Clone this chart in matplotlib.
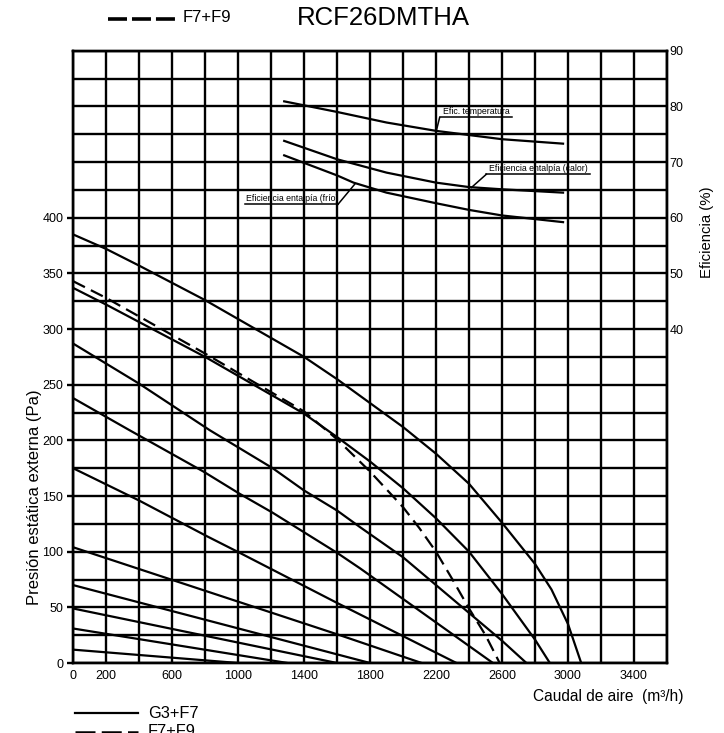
import numpy as np
import matplotlib
matplotlib.use("Agg")
import matplotlib.pyplot as plt
from matplotlib.lines import Line2D

plt.rcParams['font.family'] = ['Liberation Sans', 'DejaVu Sans']

# Curvas caudal (m3/h) - presión estática (Pa), filtros G3+F7
caudal_1 = [0, 200, 400, 800, 1400, 1600, 2000, 2200, 2400, 2600, 2800, 2900, 3000, 3080]
presion_1 = [385, 372, 357, 326, 275, 255, 212, 188, 161, 126, 89, 66, 35, 0]
caudal_2 = [0, 200, 800, 1400, 1600, 1800, 2000, 2200, 2400, 2600, 2800, 2890]
presion_2 = [337, 322, 275, 224, 203, 181, 157, 130, 100, 62, 21, 0]
caudal_3 = [0, 400, 830, 1210, 1400, 1600, 1740, 2000, 2200, 2400, 2600, 2748]
presion_3 = [287, 251, 209, 175, 155, 137, 122, 95, 70, 45, 20, 0]
caudal_4 = [0, 344, 790, 1010, 1210, 1600, 1740, 2545]
presion_4 = [238, 209, 172, 152, 135, 99, 85, 0]
caudal_5 = [0, 400, 810, 1010, 1600, 2324]
presion_5 = [175, 146, 114, 99, 54, 0]
caudal_6 = [0, 1617, 2113]
presion_6 = [104, 25, 0]
caudal_7 = [0, 1800]
presion_7 = [70, 0]
caudal_8 = [0, 1600]
presion_8 = [49, 0]
caudal_9 = [0, 1300]
presion_9 = [31, 0]
caudal_10 = [0, 1000]
presion_10 = [12, 0]

# Curva con filtros F7+F9
caudal_f9 = [0, 200, 800, 1400, 1600, 1800, 2000, 2100, 2200, 2300, 2400, 2500, 2586]
presion_f9 = [343, 328, 278, 226, 201, 172, 140, 121, 100, 75, 49, 25, 0]

# Eficiencias (%)
caudal_temp = [1280, 1600, 1900, 2200, 2600, 2970]
efic_temp = [80.9, 79.0, 77.1, 75.6, 74.1, 73.3]
caudal_calor = [1280, 1600, 1900, 2200, 2400, 2600, 2970]
efic_calor = [73.8, 70.5, 68.1, 66.3, 65.5, 65.1, 64.5]
caudal_frio = [1280, 1600, 1700, 1900, 2200, 2400, 2600, 2970]
efic_frio = [71.2, 67.6, 66.3, 64.5, 62.6, 61.4, 60.4, 59.2]

xticks_lbl = [0, 200, 600, 1000, 1400, 1800, 2200, 2600, 3000, 3400]
yticks_lbl = [0, 50, 100, 150, 200, 250, 300, 350, 400]
efic_ticks = [40, 50, 60, 70, 80, 90]

W, H = 724, 733
fig = plt.figure(figsize=(W / 100, H / 100), dpi=100)
ax = fig.add_axes([73 / W, 1 - 663 / H, (667 - 73) / W, (663 - 50.7) / H])

lw = 1.7
ax.set_xlim(0, 3600)
ax.set_ylim(0, 550)
ax.set_xticks(xticks_lbl)
ax.set_xticks(np.arange(0, 3601, 200), minor=True)
ax.set_yticks(yticks_lbl)
ax.set_yticks(np.arange(0, 551, 25), minor=True)
ax.grid(which='both', color='black', linewidth=lw)
ax.set_axisbelow(True)
for s in ax.spines.values():
    s.set_linewidth(lw)
ax.tick_params(axis='x', which='both', length=0, labelsize=9, pad=5)
ax.tick_params(axis='y', which='major', length=4, width=lw, labelsize=9, pad=3)
ax.tick_params(axis='y', which='minor', length=0)

curvas = [(caudal_1, presion_1), (caudal_2, presion_2), (caudal_3, presion_3),
          (caudal_4, presion_4), (caudal_5, presion_5), (caudal_6, presion_6),
          (caudal_7, presion_7), (caudal_8, presion_8), (caudal_9, presion_9),
          (caudal_10, presion_10)]
for cx, cy in curvas:
    ax.plot(cx, cy, color='black', lw=1.6, solid_capstyle='butt', solid_joinstyle='round')
ax.plot(caudal_f9, presion_f9, color='black', lw=1.6, dashes=(6, 3))

# eje derecho de eficiencia: 60 % coincide con 400 Pa
ax2 = ax.twinx()
ax2.set_ylim(-20, 90)
ax2.set_yticks(efic_ticks)
ax2.tick_params(axis='y', length=0, labelsize=9, pad=2)
for s in ax2.spines.values():
    s.set_linewidth(lw)
for ex, ey in [(caudal_temp, efic_temp), (caudal_calor, efic_calor), (caudal_frio, efic_frio)]:
    ax2.plot(ex, ey, color='black', lw=1.6, solid_joinstyle='round')

# rótulos con subrayado y línea guía
def rotulo(texto, x0, x1, y, guia_x0, guia, tx):
    ax2.plot([x0, x1], [y, y], color='black', lw=1.1)
    ax2.plot([guia_x0, guia[0]], [y, guia[1]], color='black', lw=1.1)
    ax2.text(tx, y + 0.2, texto, fontsize=6.3, va='bottom', ha='left')

rotulo('Efic. temperatura', 2222, 2663, 78.0, 2222, (2202, 75.6), 2240)
rotulo('Eficiencia entalpía (calor)', 2505, 3131, 67.8, 2505, (2414, 65.4), 2520)
rotulo('Eficiencia entalpía (frío)', 1041, 1606, 62.4, 1606, (1707, 66.0), 1050)

fig.text(383 / W, 1 - 18 / H, 'RCF26DMTHA', fontsize=18.5, ha='center', va='center')
fig.text(608 / W, 1 - 697 / H, 'Caudal de aire  (m³/h)', fontsize=11.2, ha='center', va='center')
fig.text(35 / W, 1 - 497 / H, 'Presión estática externa (Pa)', fontsize=12,
         rotation=90, ha='center', va='center')
fig.text(707 / W, 1 - 232 / H, 'Eficiencia (%)', fontsize=10.7,
         rotation=90, ha='center', va='center')

# leyendas
fig.add_artist(Line2D([108 / W, 175 / W], [1 - 19 / H, 1 - 19 / H], color='black',
                      lw=2.6, dashes=(5.26, 1.38), solid_capstyle='butt'))
fig.text(183 / W, 1 - 17 / H, 'F7+F9', fontsize=12, va='center')
fig.add_artist(Line2D([75 / W, 138 / W], [1 - 713 / H, 1 - 713 / H], color='black', lw=1.6))
fig.text(148 / W, 1 - 713 / H, 'G3+F7', fontsize=11.8, va='center')
fig.add_artist(Line2D([75 / W, 138 / W], [1 - 732 / H, 1 - 732 / H], color='black',
                      lw=1.8, dashes=(8, 2.5)))
fig.text(148 / W, 1 - 732 / H, 'F7+F9', fontsize=11.8, va='center')

fig.savefig('out.png', dpi=100)
